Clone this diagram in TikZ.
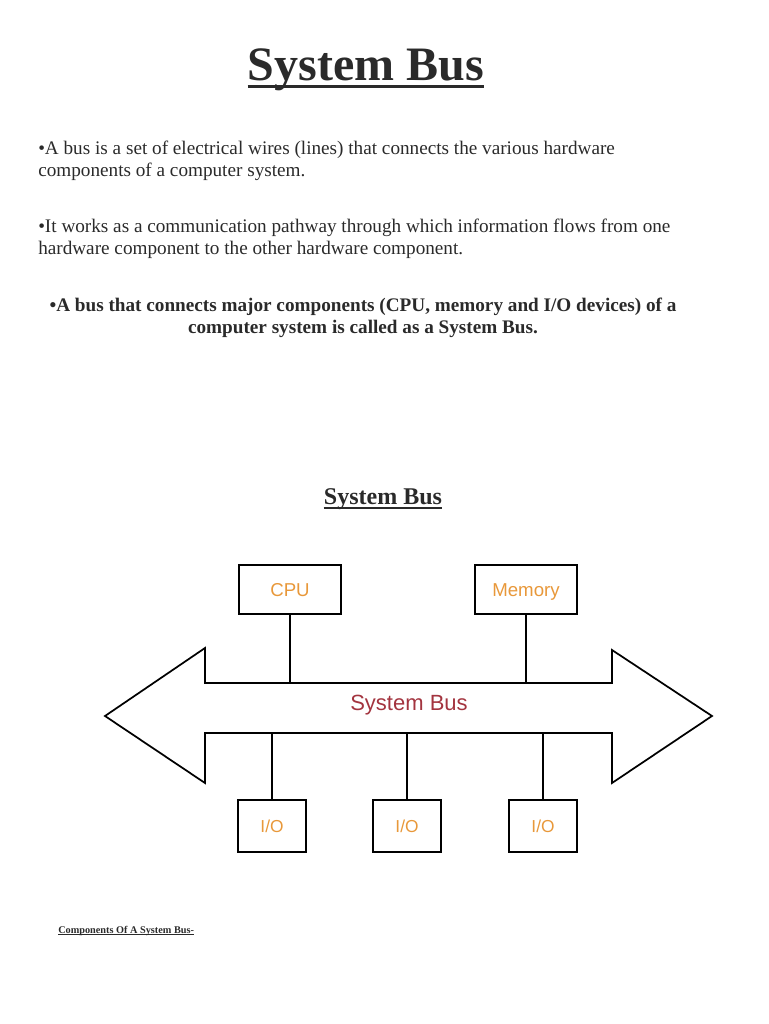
\documentclass[tikz,border=0pt]{standalone}
\usepackage{fontspec}
\setmainfont{Liberation Serif}
\newfontfamily\diagfont{Liberation Sans}
\usepackage{xcolor}
\usetikzlibrary{positioning}

\definecolor{busred}{HTML}{A3343F}
\definecolor{unitorange}{HTML}{E8983A}
\definecolor{inkgrey}{HTML}{2A2A2A}

\tikzset{
  txt/.style={inner sep=0pt, text=inkgrey, align=left, anchor=north west,
    font=\fontsize{14.4}{16.5}\selectfont},
  unit/.style={draw, line width=1.3pt, minimum width=76.5pt, minimum height=37pt,
    inner sep=0pt, text height=10pt, text depth=0pt, text=unitorange,
    font=\diagfont\fontsize{14}{16}\selectfont},
  iounit/.style={unit, minimum width=51pt, minimum height=39pt, text height=9.5pt,
    font=\diagfont\fontsize{13}{15}\selectfont},
  wire/.style={line width=1.3pt}
}

\begin{document}
\begin{tikzpicture}[x=0.75pt, y=-0.75pt]
  \useasboundingbox (0,0) rectangle (768,1024);

  % headings
  \node[inner sep=0pt, anchor=base, text=inkgrey,
    font=\bfseries\fontsize{36}{40}\selectfont] (title) at (366,80) {System Bus};
  \draw[inkgrey, line width=2.2pt] ([yshift=-5pt]title.base west) -- ([yshift=-5pt]title.base east);

  % text
  \node[txt] (p1) at (38,141) {\textbullet A bus is a set of electrical wires (lines) that connects the various hardware\\
    components of a computer system.};
  \node[txt] (p2) at (38,219) {\textbullet It works as a communication pathway through which information flows from one\\
    hardware component to the other hardware component.};
  \node[txt, align=center, anchor=north, font=\bfseries\fontsize{14.4}{16.5}\selectfont] (p3) at (363,298)
    {\textbullet A bus that connects major components (CPU, memory and I/O devices) of a\\
    computer system is called as a System Bus.};

  \node[inner sep=0pt, anchor=base, text=inkgrey,
    font=\bfseries\fontsize{18}{20}\selectfont] (sub) at (383,504) {System Bus};
  \draw[inkgrey, line width=1.2pt] ([yshift=-3pt]sub.base west) -- ([yshift=-3pt]sub.base east);

  % the bus arrow
  \coordinate (tipL) at (105,716);
  \coordinate (tipR) at (712,716);
  \coordinate (upL) at (205,683);
  \coordinate (upR) at (612,683);
  \coordinate (loL) at (205,733);
  \coordinate (loR) at (612,733);
  \draw[wire, line join=miter] (tipL) -- (205,648) -- (upL) -- (upR) -- (612,650) -- (tipR)
    -- (612,783) -- (loR) -- (loL) -- (205,783) -- cycle;
  \node[text=busred, font=\diagfont\fontsize{16.5}{18}\selectfont] (busname) at (409,705) {System Bus};

  % units
  \node[unit] (cpu) at (290,589.5) {CPU};
  \node[unit] (mem) at (526,589.5) {Memory};
  \draw[wire] (cpu.south) -- (cpu.south |- upL);
  \draw[wire] (mem.south) -- (mem.south |- upR);

  \foreach \x/\name in {272/ioA, 407/ioB, 543/ioC}{
    \node[iounit] (\name) at (\x,826) {I/O};
    \draw[wire] (\name.north) -- (\name.north |- loL);
  }

  \node[inner sep=0pt, anchor=base west, text=inkgrey,
    font=\bfseries\fontsize{7.7}{9}\selectfont] (comp) at (58,933) {Components Of A System Bus-};
  \draw[inkgrey, line width=0.5pt] ([yshift=-1.2pt]comp.base west) -- ([yshift=-1.2pt]comp.base east);
\end{tikzpicture}
\end{document}
